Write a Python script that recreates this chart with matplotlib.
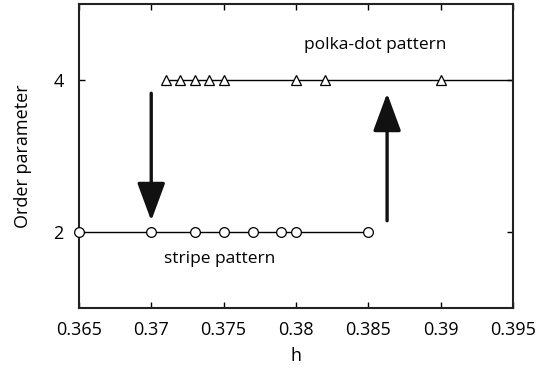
import matplotlib
matplotlib.use("Agg")
import matplotlib.pyplot as plt

plt.rcParams["font.family"] = ["Open Sans", "DejaVu Sans"]

# stripe pattern (order parameter 2)
stripe_h = [0.365, 0.370, 0.373, 0.375, 0.377, 0.379, 0.380, 0.385]
stripe_y = [2, 2, 2, 2, 2, 2, 2, 2]

# polka-dot pattern (order parameter 4)
dot_h = [0.371, 0.372, 0.373, 0.374, 0.375, 0.380, 0.382, 0.390]
dot_y = [4, 4, 4, 4, 4, 4, 4, 4]

# hysteresis arrows: (h, y_start, y_end)
arrow_down = (0.370, 3.83, 2.15)
arrow_up = (0.3863, 2.15, 3.83)

x_ticks = [0.365, 0.37, 0.375, 0.38, 0.385, 0.39, 0.395]
x_labels = ["0.365", "0.37", "0.375", "0.38", "0.385", "0.39", "0.395"]
y_ticks = [2, 4]

fig = plt.figure(figsize=(5.44, 3.72), dpi=100)
ax = fig.add_axes([0.145, 0.172, 0.798, 0.816])

ax.set_xlim(0.365, 0.395)
ax.set_ylim(1, 5)

ax.plot(stripe_h, stripe_y, color="black", lw=1.0, marker="o", ms=7,
        mfc="white", mec="black", mew=0.9, clip_on=False, zorder=3)
# polka-dot branch continues to the right edge of the axes
ax.plot([dot_h[-1], ax.get_xlim()[1]], [dot_y[-1], dot_y[-1]], color="black", lw=1.0)
ax.plot(dot_h, dot_y, color="black", lw=1.0, marker="^", ms=7,
        mfc="white", mec="black", mew=0.9, zorder=3)

for h, y0, y1 in (arrow_down, arrow_up):
    ax.annotate("", xy=(h, y1), xytext=(h, y0),
                arrowprops=dict(arrowstyle="-|>,head_length=1.3,head_width=0.48",
                                mutation_scale=18, lw=2.4, color="#111111",
                                shrinkA=0, shrinkB=0))

ax.text(0.3855, 4.46, "polka-dot pattern", ha="center", va="center", fontsize=12.5)
ax.text(0.3747, 1.645, "stripe pattern", ha="center", va="center", fontsize=12.5)

ax.set_xticks(x_ticks)
ax.set_xticklabels(x_labels)
ax.set_yticks(y_ticks)
ax.tick_params(direction="in", top=True, right=True, length=4, width=1,
               labelsize=13)
ax.tick_params(axis="x", pad=9)
ax.tick_params(axis="y", pad=11)
for s in ax.spines.values():
    s.set_linewidth(1.5)
    s.set_color("#222222")

ax.set_xlabel("h", fontsize=13, labelpad=6)
ax.set_ylabel("Order parameter", fontsize=13, labelpad=15)

fig.savefig("out.png", dpi=100)
